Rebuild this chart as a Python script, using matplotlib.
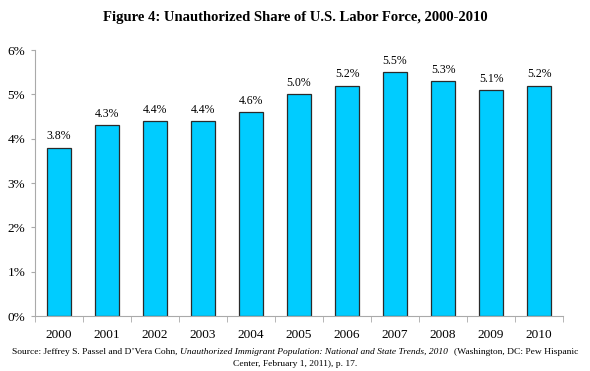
import matplotlib
matplotlib.use("Agg")
import matplotlib.pyplot as plt
import numpy as np

years = ['2000', '2001', '2002', '2003', '2004', '2005',
         '2006', '2007', '2008', '2009', '2010']
share = [3.8, 4.3, 4.4, 4.4, 4.6, 5.0, 5.2, 5.5, 5.3, 5.1, 5.2]
yticks = [0, 1, 2, 3, 4, 5, 6]

plt.rcParams['font.family'] = ['Liberation Serif', 'DejaVu Serif']

fig = plt.figure(figsize=(5.9, 3.71), dpi=100)
ax = fig.add_axes([0.0593, 0.148, 0.895, 0.717])

x = np.arange(len(years))
ax.bar(x, share, width=0.51, color='#00CCFF', edgecolor='#2a2a2a', linewidth=0.9)
for xi, v in zip(x, share):
    ax.text(xi, v + 0.12, '%.1f%%' % v, ha='center', va='bottom', fontsize=8.5)

ax.set_xlim(-0.5, len(years) - 0.5)
ax.set_ylim(0, 6)
ax.set_yticks(yticks)
ax.set_yticklabels(['%d%%' % t for t in yticks], fontsize=9.5)
ax.set_xticks(x)
ax.set_xticklabels(years, fontsize=9.5)
ax.tick_params(axis='x', length=0, pad=9)
ax.set_xticks(np.arange(-0.5, len(years)), minor=True)
ax.tick_params(axis='x', which='minor', length=4, color='#aaaaaa')
ax.tick_params(axis='y', length=3, color='#aaaaaa', pad=4)

for s in ['top', 'right']:
    ax.spines[s].set_visible(False)
for s in ['left', 'bottom']:
    ax.spines[s].set_color('#aaaaaa')
    ax.spines[s].set_linewidth(0.8)

fig.text(0.5, 0.953, 'Figure 4: Unauthorized Share of U.S. Labor Force, 2000-2010',
         ha='center', va='center', fontsize=10.5, fontweight='bold')

# source line: regular + italic + regular pieces, laid out left to right
parts = [("Source: Jeffrey S. Passel and D\u2019Vera Cohn,", 'normal', 3),
         ("Unauthorized Immigrant Population: National and State Trends, 2010", 'italic', 6),
         ("(Washington, DC: Pew Hispanic", 'normal', 0)]
renderer = fig.canvas.get_renderer()
texts = []
widths = []
for s, st, gap in parts:
    t = fig.text(0, 0.051, s, ha='left', va='center', fontsize=6.8, style=st)
    texts.append(t)
    widths.append(t.get_window_extent(renderer).width + gap)
x0 = (fig.bbox.width - sum(widths)) / 2
for t, w in zip(texts, widths):
    t.set_x(x0 / fig.bbox.width)
    x0 += w
fig.text(0.5, 0.019, 'Center, February 1, 2011), p. 17.',
         ha='center', va='center', fontsize=6.8)

fig.savefig('out.png', dpi=100)
